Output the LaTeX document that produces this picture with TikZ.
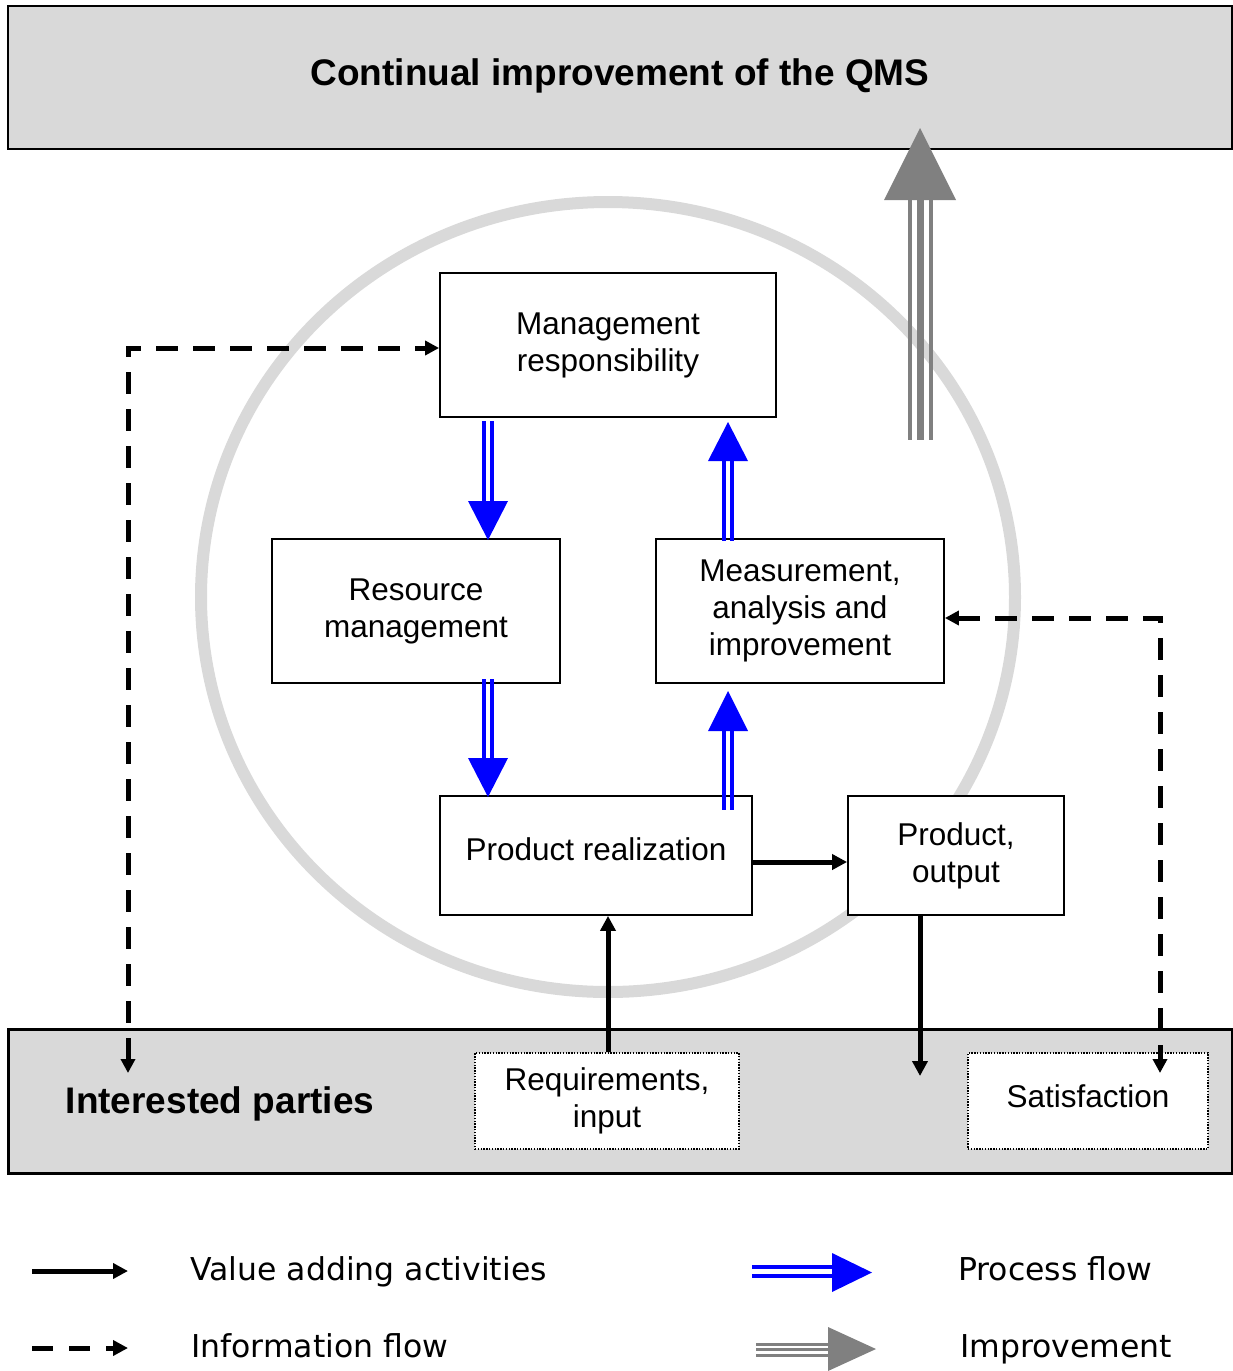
\documentclass[tikz,border=0pt]{standalone}
\usepackage{fontspec}
\setmainfont{Liberation Sans}
\newfontfamily\legfont{DejaVu Sans}
\usetikzlibrary{arrows.meta}
\definecolor{lgray}{RGB}{217,217,217}
\definecolor{agray}{RGB}{128,128,128}
\definecolor{pblue}{RGB}{0,0,255}
\begin{document}
\begin{tikzpicture}[x=1pt,y=-1pt,
  boxtext/.style={font=\fontsize{31.5}{37}\selectfont},
  procbox/.style={draw=black, line width=1.8pt, fill=white, inner sep=0pt, align=center, boxtext},
  dotbox/.style={draw=black, line width=1.4pt, dash pattern=on 1.4pt off 1.4pt, fill=white, inner sep=0pt, align=center, boxtext},
  graybox/.style={draw=black, fill=lgray, inner sep=0pt},
  boldtitle/.style={font=\fontsize{37}{44}\selectfont\bfseries},
  legtext/.style={font=\legfont\fontsize{31.5}{37}\selectfont, anchor=base west, inner sep=0pt},
  va/.style={draw=black, line width=5pt, -{Triangle[length=15pt,width=15pt]}},
  info/.style={draw=black, line width=5pt, dash pattern=on 22pt off 15pt, {Triangle[length=14pt,width=14pt]}-{Triangle[length=14pt,width=14pt]}},
  infolegend/.style={draw=black, line width=5pt, dash pattern=on 21pt off 16pt, -{Triangle[length=15pt,width=15pt]}},
  pfill/.style={fill=pblue},
  gfill/.style={fill=agray}
]
\useasboundingbox (0,0) rectangle (1233,1371);

% circle (slightly wider than tall)
\draw[lgray, line width=12pt] (608,597) ellipse[x radius=407, y radius=395];

% top box
\node[graybox, line width=2pt, minimum width=1224pt, minimum height=143pt] (topbox) at (620,77.5) {};
\node[boldtitle, inner sep=0pt] (title) at (620,76) {Continual improvement of the QMS};

% interested parties
\node[graybox, line width=3pt, minimum width=1224pt, minimum height=144pt] (ipbox) at (620,1101) {};
\node[boldtitle, inner sep=0pt] (iptext) at (220,1104) {Interested parties};

% process boxes
\node[procbox, minimum width=336pt, minimum height=144pt] (mr) at (608,345) {Management\\responsibility};
\node[procbox, minimum width=288pt, minimum height=144pt] (rm) at (416,611) {Resource\\management};
\node[procbox, minimum width=288pt, minimum height=144pt] (mai) at (800,611) {Measurement,\\analysis and\\improvement};
\node[procbox, minimum width=312pt, minimum height=119pt] (pr) at (596,855.5) {\raisebox{6pt}[\height][\depth]{Product realization}};
\node[procbox, minimum width=216pt, minimum height=119pt] (po) at (956,855.5) {Product,\\output};

\node[dotbox, minimum width=264pt, minimum height=96pt] (req) at (607,1101) {Requirements,\\input};
\node[dotbox, minimum width=240pt, minimum height=96pt] (sat) at (1088,1101) {\raisebox{5pt}[\height][\depth]{Satisfaction}};

% value adding activities
\draw[va] (req.north -| 608,0) -- (pr.south -| 608,0);
\draw[va] ([yshift=-6.5pt]pr.east) -- ([yshift=-6.5pt]po.west);
\coordinate (poend) at (920,1076);
\draw[va] (po.south -| poend) -- (poend);

% information flow
\coordinate (ipend) at (128,1073);
\draw[info] (ipend) |- ([yshift=-3pt]mr.west);
\coordinate (satend) at (1160,1073);
\draw[info] ([yshift=-7pt]mai.east) -| (satend);

% process flow (blue double arrows)
% mr -> rm
\fill[pfill] (482,421) rectangle (486,501);
\fill[pfill] (490,421) rectangle (494,501);
\fill[pfill] (468,501) -- (508,501) -- (488,540) -- cycle;
% rm -> pr
\fill[pfill] (482,679) rectangle (486,758);
\fill[pfill] (490,679) rectangle (494,758);
\fill[pfill] (468,758) -- (508,758) -- (488,797) -- cycle;
% mai -> mr
\fill[pfill] (722,541) rectangle (726,461);
\fill[pfill] (730,541) rectangle (734,461);
\fill[pfill] (708,461) -- (748,461) -- (728,422) -- cycle;
% pr -> mai
\fill[pfill] (722,810) rectangle (726,731);
\fill[pfill] (730,810) rectangle (734,731);
\fill[pfill] (708,731) -- (748,731) -- (728,691) -- cycle;

% improvement arrow
\fill[gfill] (907.5,440) rectangle (911.5,199);
\fill[gfill] (916.5,440) rectangle (923.5,199);
\fill[gfill] (928.5,440) rectangle (932.5,199);
\fill[gfill] (884,200) -- (956,200) -- (920,128) -- cycle;

% legend
\coordinate (l1a) at (32,1271);
\coordinate (l1b) at (128,1271);
\draw[va] (l1a) -- (l1b);
\coordinate (l2a) at (32,1348);
\coordinate (l2b) at (128,1348);
\draw[infolegend] (l2a) -- (l2b);
\node[legtext] (t1) at (190,1280) {Value adding activities};
\node[legtext] (t2) at (191,1357) {Information flow};

\fill[pfill] (752,1265) rectangle (833,1269);
\fill[pfill] (752,1274) rectangle (833,1278);
\fill[pfill] (832,1253) -- (832,1292) -- (872,1272.5) -- cycle;
\fill[gfill] (756,1343) rectangle (829,1345.5);
\fill[gfill] (756,1347.5) rectangle (829,1351);
\fill[gfill] (756,1353.5) rectangle (829,1356.5);
\fill[gfill] (828,1327) -- (828,1371) -- (876,1349) -- cycle;
\node[legtext] (t3) at (958,1280) {Process flow};
\node[legtext] (t4) at (960,1357) {Improvement};
\end{tikzpicture}
\end{document}
